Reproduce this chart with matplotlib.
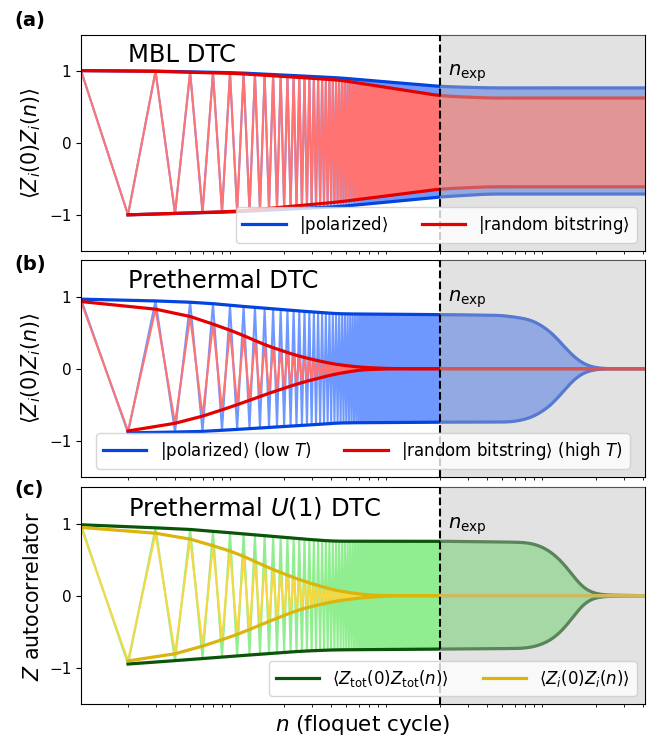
import numpy as np
import matplotlib.pyplot as plt
from matplotlib.ticker import NullFormatter

plt.rcParams['font.size'] = 11

# floquet cycles and experiment length
n_max = 4096
n_exp = 200

# envelopes: (cycle, value) knots
# (a) MBL DTC
a_pol_up_n = [1, 2, 10, 45, 200, 400, 4096]
a_pol_up = [1.0, 1.0, 0.97, 0.90, 0.78, 0.76, 0.76]
a_pol_lo_n = [2, 10, 45, 200, 400, 4096]
a_pol_lo = [-1.0, -0.955, -0.885, -0.75, -0.71, -0.71]
a_rnd_up_n = [1, 2, 10, 45, 200, 400, 4096]
a_rnd_up = [1.0, 1.0, 0.96, 0.87, 0.65, 0.62, 0.62]
a_rnd_lo_n = [2, 10, 45, 200, 400, 4096]
a_rnd_lo = [-1.0, -0.95, -0.82, -0.64, -0.61, -0.61]

# (b) prethermal DTC
b_pol_up_n = [1, 3, 6, 10, 25, 45, 200, 500, 780, 1050, 1290, 1570, 1900, 2300, 4096]
b_pol_up = [0.965, 0.94, 0.915, 0.87, 0.80, 0.76, 0.75, 0.74, 0.68, 0.50, 0.26, 0.08, 0.01, 0.0, 0.0]
b_pol_lo_n = [2, 6, 29, 45, 200, 580, 780, 1050, 1290, 1570, 1900, 2300, 4096]
b_pol_lo = [-0.89, -0.87, -0.78, -0.75, -0.74, -0.74, -0.68, -0.50, -0.25, -0.06, -0.01, 0.0, 0.0]
b_rnd_up_n = [1, 3, 5, 10, 15, 25, 41, 61, 100, 4096]
b_rnd_up = [0.935, 0.83, 0.73, 0.50, 0.33, 0.17, 0.065, 0.02, 0.0, 0.0]
b_rnd_lo_n = [2, 4, 6, 10, 15, 25, 41, 61, 100, 4096]
b_rnd_lo = [-0.87, -0.76, -0.66, -0.50, -0.36, -0.20, -0.08, -0.015, 0.0, 0.0]

# (c) prethermal U(1) DTC
c_tot_up_n = [1, 5, 25, 41, 200, 720, 870, 1050, 1290, 1570, 1730, 2100, 4096]
c_tot_up = [0.985, 0.92, 0.79, 0.755, 0.755, 0.74, 0.70, 0.60, 0.41, 0.13, 0.06, 0.01, 0.0]
c_tot_lo_n = [2, 6, 25, 41, 200, 720, 870, 1050, 1290, 1570, 1730, 2100, 4096]
c_tot_lo = [-0.95, -0.87, -0.77, -0.75, -0.74, -0.73, -0.69, -0.61, -0.43, -0.15, -0.055, -0.01, 0.0]
c_loc_up_n = [1, 3, 5, 10, 15, 25, 41, 61, 85, 4096]
c_loc_up = [0.95, 0.87, 0.79, 0.59, 0.41, 0.22, 0.08, 0.02, 0.0, 0.0]
c_loc_lo_n = [2, 4, 6, 10, 15, 25, 41, 61, 100, 4096]
c_loc_lo = [-0.91, -0.81, -0.70, -0.54, -0.38, -0.19, -0.08, -0.03, 0.0, 0.0]

panel_tags = ['(a)', '(b)', '(c)']
panel_titles = ['MBL DTC', 'Prethermal DTC', r'Prethermal $U(1)$ DTC']
ylabels = [r'$\langle Z_i(0)Z_i(n)\rangle$', r'$\langle Z_i(0)Z_i(n)\rangle$', r'$Z$ autocorrelator']
labels = [
    [r'$|$polarized$\rangle$', r'$|$random bitstring$\rangle$'],
    [r'$|$polarized$\rangle$ (low $T$)', r'$|$random bitstring$\rangle$ (high $T$)'],
    [r'$\langle Z_{\rm tot}(0)Z_{\rm tot}(n)\rangle$', r'$\langle Z_i(0)Z_i(n)\rangle$'],
]

n = np.arange(1, n_max + 1)
odd = n % 2 == 1

# smooth the knot curves a little in log(n) so they look like the original data
grid = np.linspace(0, np.log10(n_max), 4001)
step = grid[1] - grid[0]
sig = 0.05 / step
kx = np.arange(-int(4 * sig), int(4 * sig) + 1)
kernel = np.exp(-0.5 * (kx / sig) ** 2)
kernel /= kernel.sum()


def envelope(kn, kv, cycles):
    g = np.interp(grid, np.log10(kn), kv)
    pad = len(kernel) // 2
    gs = np.convolve(np.pad(g, pad, mode='edge'), kernel, mode='valid')
    return np.interp(np.log10(cycles), grid, gs)


def signal(up_n, up, lo_n, lo):
    # period-doubled response: upper envelope on odd cycles, lower on even cycles
    return np.where(odd, envelope(up_n, up, n), envelope(lo_n, lo, n))


series = [
    [(a_pol_up_n, a_pol_up, a_pol_lo_n, a_pol_lo), (a_rnd_up_n, a_rnd_up, a_rnd_lo_n, a_rnd_lo)],
    [(b_pol_up_n, b_pol_up, b_pol_lo_n, b_pol_lo), (b_rnd_up_n, b_rnd_up, b_rnd_lo_n, b_rnd_lo)],
    [(c_tot_up_n, c_tot_up, c_tot_lo_n, c_tot_lo), (c_loc_up_n, c_loc_up, c_loc_lo_n, c_loc_lo)],
]
dark = [['#0343df', '#e50000'], ['#0343df', '#e50000'], ['#0a550a', '#dbb40c']]
light = [['#6f98ff', '#ff7373'], ['#6f98ff', '#ff7373'], ['#90ee90', '#f4d844']]
legend_loc = ['lower right', 'lower center', 'lower right']

fig = plt.figure(figsize=(6.54, 7.44), dpi=100)
bottoms = [0.6626, 0.3589, 0.0538]
tag_y = [0.973, 0.645, 0.342]

for i in range(3):
    ax = fig.add_axes([0.1239, bottoms[i], 0.8623, 0.2910])
    handles = []
    zs = [signal(*s) for s in series[i]]
    for j in range(2):
        ax.plot(n, zs[j], color=light[i][j], lw=1.5, zorder=2)
    for j in range(2):
        z = zs[j]
        h, = ax.plot(n[odd], z[odd], color=dark[i][j], lw=2.3, zorder=2.2, label=labels[i][j])
        ax.plot(n[~odd], z[~odd], color=dark[i][j], lw=2.3, zorder=2.2)
        handles.append(h)

    # beyond the experimentally accessible window
    ax.axvspan(n_exp, n_max, color='#bfbfbf', alpha=0.45, lw=0, zorder=3)
    ax.axvline(n_exp, color='k', ls='--', lw=1.5, zorder=4)
    ax.text(n_exp * 1.12, 0.82, r'$n_{\rm exp}$', transform=ax.get_xaxis_transform(),
            fontsize=14, va='center', ha='left', zorder=5)

    ax.text(0.083, 0.905, panel_titles[i], transform=ax.transAxes, fontsize=17.5,
            va='center', ha='left')
    fig.text(0.022, tag_y[i], panel_tags[i], fontsize=14, fontweight='bold', va='center')

    ax.set_xscale('log')
    ax.set_xlim(1, n_max)
    ax.set_xticks([])
    ax.xaxis.set_minor_formatter(NullFormatter())
    ax.set_ylim(-1.5, 1.5)
    ax.set_yticks([-1, 0, 1])
    ax.set_ylabel(ylabels[i], fontsize=14.8)
    ax.legend(handles=handles, loc=legend_loc[i], ncol=2, handlelength=2.6,
              fontsize=12).set_zorder(6)

ax.set_xlabel(r'$n$ (floquet cycle)', fontsize=15.5, labelpad=1)

fig.savefig('out.png', dpi=100)
